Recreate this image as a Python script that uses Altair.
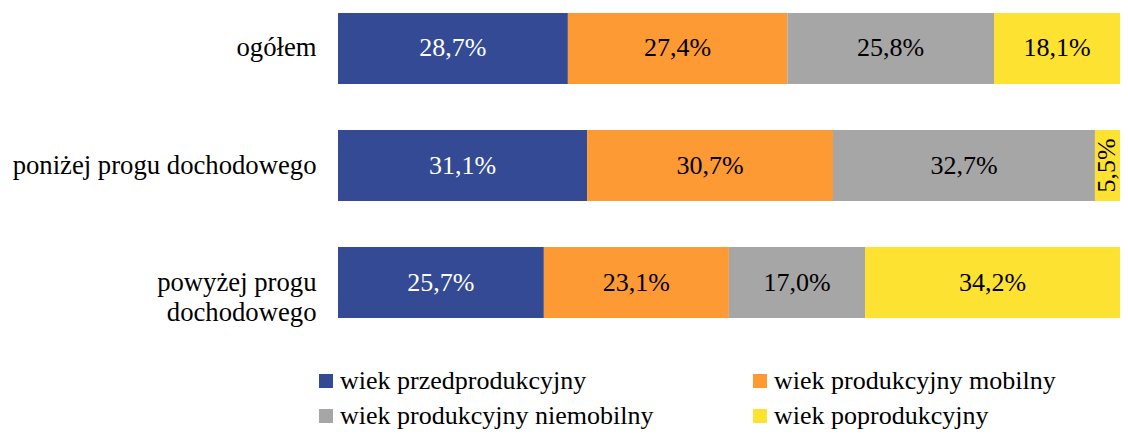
import altair as alt
import pandas as pd

categories = ["ogółem", "poniżej progu dochodowego", "powyżej progu dochodowego"]
series = ["wiek przedprodukcyjny", "wiek produkcyjny mobilny",
          "wiek produkcyjny niemobilny", "wiek poprodukcyjny"]
przedprodukcyjny = [28.7, 31.1, 25.7]
produkcyjny_mobilny = [27.4, 30.7, 23.1]
produkcyjny_niemobilny = [25.8, 32.7, 17.0]
poprodukcyjny = [18.1, 5.5, 34.2]
colors = ["#344A94", "#FD9A33", "#A6A6A6", "#FEE231"]
label_colors = ["white", "black", "black", "black"]

X_MAX = 97.63  # visible part of the 0-100 % axis (the chart is cropped at the right)

values = [przedprodukcyjny, produkcyjny_mobilny, produkcyjny_niemobilny, poprodukcyjny]
rows = []
for ci, cat in enumerate(categories):
    start = 0.0
    for si, s in enumerate(series):
        v = values[si][ci]
        end = start + v
        rows.append({
            "cat": cat,
            "series": s,
            "order": si,
            "start": start,
            "end": end,
            "mid": (start + min(end, X_MAX)) / 2,
            "label": f"{v:.1f}".replace(".", ",") + "%",
            "tc": label_colors[si],
            "ang": 270 if v < 10 else 0,
        })
        start = end
df = pd.DataFrame(rows)

FONT = "'Liberation Serif', 'Times New Roman', Tinos, 'DejaVu Serif', serif"

y_enc = alt.Y(
    "cat:N", sort=categories, title=None,
    scale=alt.Scale(paddingInner=0.3932, paddingOuter=0.0427),
    axis=alt.Axis(
        domain=False, ticks=False, grid=False, labelPadding=22, labelFont=FONT,
        labelFontSize=26.7, labelColor="black", labelLimit=400,
        labelLineHeight=30,
        labelExpr="datum.label == 'powyżej progu dochodowego' ? ['powyżej progu', 'dochodowego'] : datum.label",
    ),
)
x_scale = alt.Scale(domain=[0, X_MAX], nice=False, zero=True)

bars = alt.Chart(df).mark_bar(clip=True).encode(
    y=y_enc,
    x=alt.X("start:Q", scale=x_scale, axis=None),
    x2="end:Q",
    color=alt.Color(
        "series:N", sort=series,
        scale=alt.Scale(domain=series, range=colors),
        legend=alt.Legend(
            title=None, orient="none", legendX=-25, legendY=360,
            direction="horizontal",
            columns=2, columnPadding=93, rowPadding=9, padding=0,
            symbolType="square", symbolSize=196, symbolStrokeWidth=0,
            labelFont=FONT, labelFontSize=26, labelColor="black",
            labelOffset=1, labelLimit=500,
        ),
    ),
    order="order:Q",
)

texts = alt.Chart(df).mark_text(clip=True, font=FONT, fontSize=26).encode(
    y=alt.Y("cat:N", sort=categories),
    x=alt.X("mid:Q", scale=x_scale),
    text="label:N",
    color=alt.Color("tc:N", scale=None),
    angle=alt.Angle("ang:Q", scale=None),
)

chart = alt.layer(bars, texts).properties(
    width=782, height=315,
    autosize=alt.AutoSizeParams(type="none"),
    padding={"left": 330, "top": 0, "right": 0, "bottom": 106},
).configure(font=FONT).configure_view(stroke=None)

chart.save("out.html", embed_options={"renderer": "svg", "actions": False})
